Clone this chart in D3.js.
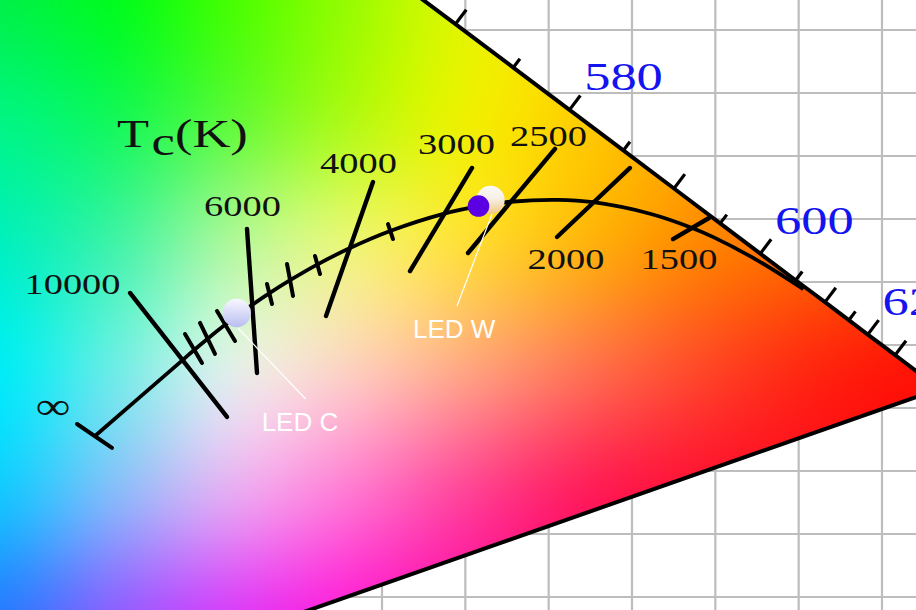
<!DOCTYPE html>
<html><head><meta charset="utf-8">
<script src="https://cdn.jsdelivr.net/npm/d3@7"></script>
<style>html,body{margin:0;padding:0;background:#fff;overflow:hidden}</style>
</head><body><div id="chart"></div>
<script>
// ---------------- DATA ----------------
// CIE 1931 spectral locus (wavelength nm, x, y)
const locusWavelengths = [380,400,420,440,450,460,470,475,480,485,490,495,500,505,510,515,520,525,530,535,540,545,550,555,560,565,570,575,580,585,590,595,600,605,610,615,620,625,630,635,640,650,660,680,700];
const locusX = [0.1741,0.1733,0.1714,0.1644,0.1566,0.1440,0.1241,0.1096,0.0913,0.0687,0.0454,0.0235,0.0082,0.0039,0.0139,0.0389,0.0743,0.1142,0.1547,0.1929,0.2296,0.2658,0.3016,0.3373,0.3731,0.4087,0.4441,0.4788,0.5125,0.5448,0.5752,0.6029,0.6270,0.6482,0.6658,0.6801,0.6915,0.7006,0.7079,0.7140,0.7190,0.7260,0.7300,0.7334,0.7347];
const locusY = [0.0050,0.0048,0.0051,0.0109,0.0177,0.0297,0.0578,0.0868,0.1327,0.2007,0.2950,0.4127,0.5384,0.6548,0.7502,0.8120,0.8338,0.8262,0.8059,0.7816,0.7543,0.7243,0.6923,0.6589,0.6245,0.5896,0.5547,0.5202,0.4866,0.4544,0.4242,0.3965,0.3725,0.3514,0.3340,0.3197,0.3083,0.2993,0.2920,0.2859,0.2809,0.2740,0.2700,0.2666,0.2653];
const wavelengthTicks = [570,575,580,585,590,595,600,605,610,615,620,630];
const wavelengthLabels = [580,600,620];

// Planckian locus
const planckTemps = ["1000","1200","1400","1500","1700","2000","2200","2500","2700","3000","3500","4000","4500","5000","5500","6000","6500","7000","8000","9000","10000","∞"];
const planckX = [0.6528,0.6250,0.5985,0.5857,0.5614,0.5267,0.5056,0.4770,0.4599,0.4369,0.4053,0.3805,0.3608,0.3451,0.3325,0.3221,0.3135,0.3064,0.2952,0.2869,0.2807,0.2278];
const planckY = [0.3444,0.3674,0.3858,0.3931,0.4040,0.4133,0.4152,0.4137,0.4106,0.4041,0.3907,0.3768,0.3636,0.3516,0.3411,0.3318,0.3237,0.3166,0.3048,0.2956,0.2884,0.2278];

// labelled isotherms (end points, CIE x/y)
const isoTemps = ["10000","6000","4000","3000","2500","2000","1500"];
const isoX1 = [0.2488,0.3190,0.3946,0.4540,0.5038,0.5488,0.5962];
const isoY1 = [0.3413,0.3921,0.4294,0.4405,0.4556,0.4405,0.4008];
const isoX2 = [0.3070,0.3250,0.3664,0.4168,0.4516,0.5050,0.5746];
const isoY2 = [0.2429,0.2778,0.3230,0.3587,0.3730,0.3857,0.3841];

// minor isotherm ticks
const minorTemps = ["9000","8000","7000","5500","5000","4500","3500"];
const minorX1 = [0.2818,0.2908,0.3010,0.3310,0.3430,0.3598,0.4036];
const minorY1 = [0.3087,0.3175,0.3270,0.3484,0.3643,0.3706,0.3960];
const minorX2 = [0.2920,0.2998,0.3118,0.3340,0.3466,0.3628,0.4066];
const minorY2 = [0.2857,0.2929,0.3032,0.3325,0.3389,0.3563,0.3841];

// infinity end cap
const capX = [0.2170,0.2380];
const capY = [0.2373,0.2183];

// LEDs
const ledNames = ["LED C","LED W"];
const ledX = [0.3128,0.4651];
const ledY = [0.3254,0.4151];
const markX = [0.4579];
const markY = [0.4103];

// grid
const gridXTicks = [0.35,0.40,0.45,0.50,0.55,0.60,0.65,0.70];
const gridYTicks = [0.10,0.15,0.20,0.25,0.30,0.35,0.40,0.45,0.50,0.55];

// ---------------- LAYOUT / STYLE ----------------
const W = 916, H = 610;
const x = d3.scaleLinear().domain([0.40,0.70]).range([382,882]);
const y = d3.scaleLinear().domain([0.10,0.55]).range([597,30]);

// background colour field nodes (CIE coords) and colours
const fieldCX = [0.17,0.24,0.31,0.38,0.45,0.52,0.59,0.66,0.73];
const fieldCY = [0.58,0.48,0.38,0.28,0.18,0.08];
const fieldRGB = [
 [[0,240,70],[0,252,28],[70,255,0],[150,252,0],[225,245,0],[255,220,0],[255,190,0],[255,160,0],[255,140,0]],
 [[0,245,130],[20,248,88],[95,250,55],[175,250,20],[238,240,0],[255,205,0],[255,170,0],[255,140,0],[255,110,0]],
 [[0,240,190],[65,243,168],[175,248,155],[235,245,118],[255,222,55],[255,180,15],[255,135,0],[255,105,0],[255,80,0]],
 [[0,236,245],[110,236,230],[225,238,232],[252,208,192],[255,165,130],[255,115,80],[255,72,40],[255,38,15],[255,18,5]],
 [[20,198,255],[135,185,250],[230,168,242],[255,118,210],[255,66,152],[255,28,92],[255,16,52],[255,12,30],[255,10,15]],
 [[40,120,255],[140,92,255],[215,58,248],[255,28,212],[255,15,160],[255,10,110],[255,10,70],[255,10,40],[255,10,20]]
];

const svg = d3.select("#chart").append("svg")
  .attr("width", W).attr("height", H)
  .style("display","block")
  .style("font-family","'Liberation Serif','Times New Roman',serif");

svg.append("rect").attr("width",W).attr("height",H).attr("fill","#fff");

// grid
const g0 = svg.append("g").attr("stroke","#bdbdbd").attr("stroke-width",2.2);
g0.selectAll("line.v").data(gridXTicks).join("line").attr("class","v")
  .attr("x1",d=>x(d)).attr("x2",d=>x(d)).attr("y1",0).attr("y2",H);
g0.selectAll("line.h").data(gridYTicks).join("line").attr("class","h")
  .attr("y1",d=>y(d)).attr("y2",d=>y(d)).attr("x1",0).attr("x2",W);

// colour field via canvas
function cr(p0,p1,p2,p3,t){
  return 0.5*(2*p1 + (-p0+p2)*t + (2*p0-5*p1+4*p2-p3)*t*t + (-p0+3*p1-3*p2+p3)*t*t*t);
}
const nx = fieldCX.length, ny = fieldCY.length;
const px = fieldCX.map(v=>x(v)), py = fieldCY.map(v=>y(v));
const sx = px[1]-px[0], sy = py[1]-py[0];
const cl = (i,n)=>Math.max(0,Math.min(n-1,i));
const rowVals = [];
for(let r=0;r<ny;r++){
  const arr = new Float32Array(W*3);
  for(let X=0;X<W;X++){
    let f = (X+0.5-px[0])/sx; let i = Math.floor(f); i = Math.max(0,Math.min(nx-2,i));
    let t = Math.max(0,Math.min(1,f-i));
    for(let c=0;c<3;c++){
      arr[X*3+c] = cr(fieldRGB[r][cl(i-1,nx)][c],fieldRGB[r][i][c],fieldRGB[r][i+1][c],fieldRGB[r][cl(i+2,nx)][c],t);
    }
  }
  rowVals.push(arr);
}
const canvas = document.createElement("canvas");
canvas.width = W; canvas.height = H;
const ctx = canvas.getContext("2d");
const img = ctx.createImageData(W,H);
for(let Y=0;Y<H;Y++){
  let f = (Y+0.5-py[0])/sy; let j = Math.floor(f); j = Math.max(0,Math.min(ny-2,j));
  let t = Math.max(0,Math.min(1,f-j));
  const a=rowVals[cl(j-1,ny)], b=rowVals[j], c2=rowVals[j+1], d=rowVals[cl(j+2,ny)];
  for(let X=0;X<W;X++){
    const k=(Y*W+X)*4;
    for(let c=0;c<3;c++){
      const v = cr(a[X*3+c],b[X*3+c],c2[X*3+c],d[X*3+c],t);
      img.data[k+c] = Math.max(0,Math.min(255,Math.round(v)));
    }
    img.data[k+3]=255;
  }
}
ctx.putImageData(img,0,0);

const locusPts = locusWavelengths.map((w,i)=>[x(locusX[i]),y(locusY[i])]);
const defs = svg.append("defs");
defs.append("clipPath").attr("id","locusClip")
  .append("path").attr("d", d3.line()(locusPts)+"Z");
svg.append("image").attr("href", canvas.toDataURL()).attr("x",0).attr("y",0)
  .attr("width",W).attr("height",H).attr("clip-path","url(#locusClip)");

// outline
svg.append("path").attr("d", d3.line()(locusPts)+"Z")
  .attr("fill","none").attr("stroke","#000").attr("stroke-width",4).attr("stroke-linejoin","round");

// wavelength ticks
const wIdx = w => locusWavelengths.indexOf(w);
const centre = [x(0.33), y(0.33)];
wavelengthTicks.forEach(w=>{
  const i = wIdx(w);
  const p = locusPts[i], pa = locusPts[i-1], pb = locusPts[i+1];
  let tx = pb[0]-pa[0], ty = pb[1]-pa[1]; const L = Math.hypot(tx,ty); tx/=L; ty/=L;
  let nxv = ty, nyv = -tx;
  if((p[0]-centre[0])*nxv + (p[1]-centre[1])*nyv < 0){ nxv=-nxv; nyv=-nyv; }
  const len = (w%10===0) ? 18 : 11;
  svg.append("line").attr("x1",p[0]).attr("y1",p[1])
    .attr("x2",p[0]+nxv*len).attr("y2",p[1]+nyv*len)
    .attr("stroke","#000").attr("stroke-width",3.2);
});
// wavelength labels (620 runs past the right edge, as in the reference)
wavelengthLabels.forEach(w=>{
  const p = locusPts[wIdx(w)];
  svg.append("text").attr("transform",`translate(${p[0]+54},${p[1]-20}) scale(1.28,1)`)
    .attr("text-anchor","middle").attr("font-size",41).attr("fill","#1414f0").text(w);
});

// Planckian locus
const planckPts = planckTemps.map((t,i)=>[x(planckX[i]),y(planckY[i])]);
svg.append("path").attr("d", d3.line().curve(d3.curveCatmullRom)(planckPts))
  .attr("fill","none").attr("stroke","#000").attr("stroke-width",3.8);

// isotherms
const isoG = svg.append("g").attr("stroke","#000").attr("stroke-width",4.4).attr("stroke-linecap","round");
isoTemps.forEach((t,i)=>{
  isoG.append("line").attr("x1",x(isoX1[i])).attr("y1",y(isoY1[i])).attr("x2",x(isoX2[i])).attr("y2",y(isoY2[i]));
});
minorTemps.forEach((t,i)=>{
  isoG.append("line").attr("x1",x(minorX1[i])).attr("y1",y(minorY1[i])).attr("x2",x(minorX2[i])).attr("y2",y(minorY2[i]))
    .attr("stroke-width",4);
});
isoG.append("line").attr("x1",x(capX[0])).attr("y1",y(capY[0])).attr("x2",x(capX[1])).attr("y2",y(capY[1])).attr("stroke-width",4);

// temperature labels (offsets from an isotherm end)
const labelEnd = [1,1,1,1,1,2,2];
const labelDx = [-57.5,-4.5,-14.5,-15.5,-6.5,9,6];
const labelDy = [1,-13,-9,-14,-3,32,30];
isoTemps.forEach((t,i)=>{
  const ex = labelEnd[i]===1 ? x(isoX1[i]) : x(isoX2[i]);
  const ey = labelEnd[i]===1 ? y(isoY1[i]) : y(isoY2[i]);
  svg.append("text").attr("transform",`translate(${ex+labelDx[i]},${ey+labelDy[i]}) scale(1.28,1)`)
    .attr("text-anchor","middle").attr("font-size",30).attr("fill","#111").text(t);
});
// infinity label
const last = planckPts[planckPts.length-1];
svg.append("text").attr("transform",`translate(${last[0]-42},${last[1]-17}) scale(1.28,1)`)
  .attr("text-anchor","middle").attr("font-size",38).attr("fill","#111").text(planckTemps[planckTemps.length-1]);

// Tc(K)
const tc = svg.append("text").attr("transform","translate(117,147) scale(1.28,1)")
  .attr("font-size",41).attr("fill","#111");
tc.append("tspan").text("T");
tc.append("tspan").attr("dy",8).attr("dx",2).text("c");
tc.append("tspan").attr("dy",-8).text("(K)");

// LED markers
const gC = defs.append("linearGradient").attr("id","gC").attr("x1",0).attr("y1",0).attr("x2",0).attr("y2",1);
gC.append("stop").attr("offset","0%").attr("stop-color","#f8f8ff");
gC.append("stop").attr("offset","100%").attr("stop-color","#b9bdf0");
const gW = defs.append("linearGradient").attr("id","gW").attr("x1",0).attr("y1",0).attr("x2",0).attr("y2",1);
gW.append("stop").attr("offset","0%").attr("stop-color","#fbfbfb");
gW.append("stop").attr("offset","45%").attr("stop-color","#f6f0e6");
gW.append("stop").attr("offset","100%").attr("stop-color","#f0c880");

const ledFill = ["url(#gC)","url(#gW)"];
ledNames.forEach((n,i)=>{
  svg.append("circle").attr("cx",x(ledX[i])).attr("cy",y(ledY[i])).attr("r",14.2).attr("fill",ledFill[i]);
});
svg.append("circle").attr("cx",x(markX[0])).attr("cy",y(markY[0])).attr("r",10.8).attr("fill","#5a00e2");

// leader lines and labels (offsets from LED centre)
const leadDx1 = [1.3,1.5], leadDy1 = [15,14], leadDx2 = [69,-33.5], leadDy2 = [86,106];
const textDx = [25,-77.5], textDy = [118,138];
ledNames.forEach((n,i)=>{
  const cx = x(ledX[i]), cy = y(ledY[i]);
  svg.append("line").attr("x1",cx+leadDx1[i]).attr("y1",cy+leadDy1[i]).attr("x2",cx+leadDx2[i]).attr("y2",cy+leadDy2[i])
    .attr("stroke","#fff").attr("stroke-width",1.2);
  svg.append("text").attr("x",cx+textDx[i]).attr("y",cy+textDy[i])
    .attr("font-family","'Liberation Sans',Arial,sans-serif").attr("font-size",26).attr("fill","#fff").text(n);
});
</script>
</body></html>
